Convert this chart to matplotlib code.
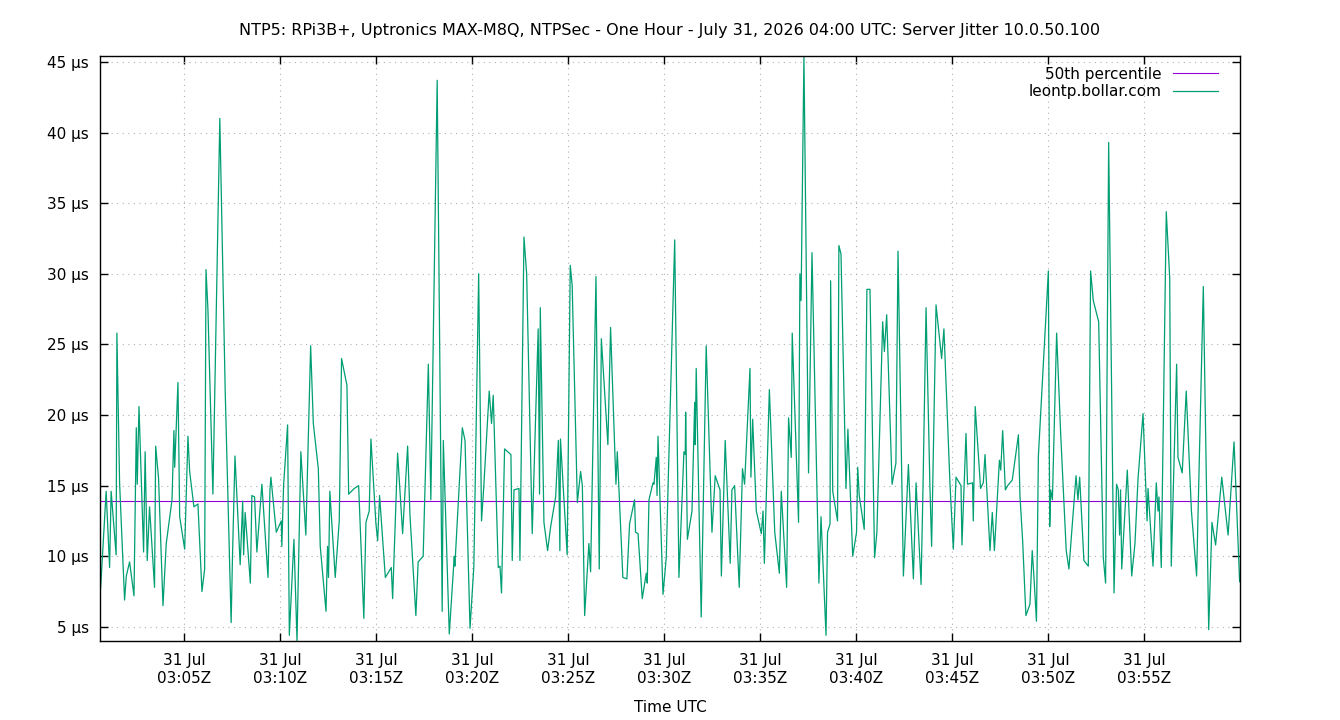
import matplotlib.pyplot as plt

# minutes after 03:00 UTC and server jitter (µs)
minutes = [
    0.66, 0.95, 1.13, 1.21, 1.47, 1.51, 1.65, 1.91, 2.00, 2.17, 2.40, 2.52, 2.57, 2.66,
    2.90, 2.98, 3.09, 3.21, 3.47, 3.53, 3.68, 3.91, 4.08, 4.38, 4.48, 4.52, 4.69, 4.78,
    5.04, 5.21, 5.30, 5.52, 5.73, 5.94,
    6.08, 6.15, 6.25, 6.51, 6.87, 7.15, 7.46, 7.53, 7.66, 7.93, 8.06, 8.11, 8.19, 8.46,
    8.54, 8.68, 8.80, 9.06, 9.38, 9.48, 9.53, 9.81, 10.07, 10.10, 10.19, 10.40, 10.49,
    10.73, 10.89, 11.09, 11.35,
    11.60, 11.74, 12.00, 12.10, 12.40, 12.48, 12.53, 12.60, 12.88, 13.09, 13.21, 13.49,
    13.58, 13.87, 14.10, 14.37, 14.48, 14.65, 14.74, 15.00, 15.09, 15.19, 15.49, 15.80,
    15.87, 16.13, 16.39, 16.65, 16.77,
    17.08, 17.20, 17.46, 17.73, 17.86, 18.19, 18.45, 18.51, 18.82, 19.08, 19.11, 19.50,
    19.64, 19.90, 20.10, 20.35, 20.50, 20.62, 20.90, 21.02, 21.11, 21.37, 21.46, 21.54,
    21.70, 22.03, 22.10, 22.19,
    22.45, 22.50, 22.71, 22.85, 23.14, 23.45, 23.52, 23.56, 23.75, 23.94, 24.10, 24.36,
    24.50, 24.58, 24.61, 24.96, 25.12, 25.22, 25.49, 25.66, 25.75, 25.87, 26.09, 26.18,
    26.46, 26.63, 26.74, 27.08, 27.22, 27.50, 27.57,
    27.86, 28.07, 28.21, 28.47, 28.52, 28.65, 28.87, 29.08, 29.13, 29.22, 29.43, 29.48,
    29.60, 29.64, 29.69, 29.95, 30.12, 30.21, 30.56, 30.78, 31.04, 31.11, 31.13, 31.22,
    31.46, 31.60, 31.63, 31.68, 31.94, 32.20, 32.50, 32.67, 32.92, 32.99,
    33.19, 33.45, 33.54, 33.68, 33.92, 34.09, 34.20, 34.48, 34.53, 34.62, 34.81, 35.07,
    35.16, 35.23, 35.49, 35.77, 36.01, 36.11, 36.39, 36.49, 36.63, 36.68, 37.01, 37.08,
    37.14, 37.29, 37.53, 37.71, 38.07, 38.18, 38.44,
    38.52, 38.65, 38.68, 38.79, 39.04, 39.11, 39.22, 39.48, 39.58, 39.83, 40.03, 40.09,
    40.17, 40.43, 40.57, 40.73, 40.97, 41.09, 41.39, 41.48, 41.60, 41.88, 42.08, 42.19,
    42.47, 42.73, 42.99, 43.13, 43.39, 43.49, 43.65, 43.85,
    43.94, 44.17, 44.46, 44.58, 44.90, 45.07, 45.21, 45.47, 45.52, 45.73, 45.81, 46.07,
    46.11, 46.21, 46.49, 46.63, 46.72, 46.98, 47.10, 47.21, 47.47, 47.54, 47.64, 47.78,
    47.90, 48.14, 48.46, 48.54, 48.68, 48.85, 49.06, 49.18, 49.27,
    49.40, 49.50, 50.02, 50.09, 50.14, 50.23, 50.45, 50.66, 50.95, 51.09, 51.46, 51.56,
    51.65, 51.87, 52.10, 52.22, 52.36, 52.64, 52.88, 53.00, 53.16, 53.44, 53.57, 53.66,
    53.73, 53.78, 53.84, 54.13, 54.36, 54.53, 54.69,
    54.95, 55.16, 55.21, 55.47, 55.64, 55.73, 55.78, 55.90, 56.16, 56.34, 56.42, 56.70,
    56.77, 56.99, 57.20, 57.47, 57.74, 58.09, 58.37, 58.54, 58.73, 59.05, 59.38, 59.69,
    59.98,
]
jitter_us = [
    7.7, 14.6, 9.2, 14.6, 10.1, 25.8, 15.2, 6.9, 8.6, 9.6, 7.2, 19.1, 15.1, 20.6,
    10.3, 17.4, 9.7, 13.5, 7.8, 17.8, 15.5, 6.5, 10.9, 14.0, 18.9, 16.3, 22.3, 12.8,
    10.5, 18.5, 16.0, 13.5, 13.7, 7.5,
    9.1, 30.3, 27.5, 14.4, 41.0, 21.7, 5.3, 10.0, 17.1, 9.4, 13.9, 10.1, 13.1, 8.1,
    14.3, 14.2, 10.3, 15.1, 8.5, 14.7, 15.6, 11.7, 12.5, 10.7, 15.0, 19.3, 4.4,
    11.2, 4.0, 17.4, 11.5,
    24.9, 19.4, 16.2, 10.7, 6.1, 10.7, 8.5, 14.6, 8.5, 12.5, 24.0, 22.1,
    14.4, 14.8, 15.0, 5.6, 12.4, 13.2, 18.3, 12.3, 11.1, 14.3, 8.5, 9.2,
    7.0, 17.3, 11.6, 17.8, 13.0,
    5.8, 9.6, 10.0, 23.6, 14.0, 43.7, 6.1, 18.2, 4.5, 10.0, 9.3, 19.1,
    18.2, 4.9, 9.3, 30.0, 12.5, 15.0, 21.7, 19.4, 21.4, 9.2, 9.3, 7.4,
    17.6, 17.2, 9.7, 14.7,
    14.8, 9.7, 32.6, 30.0, 11.6, 26.1, 14.4, 27.6, 12.4, 10.4, 12.1, 14.2,
    18.2, 10.4, 18.3, 10.1, 30.6, 29.2, 13.8, 16.0, 15.0, 5.8, 10.9, 8.9,
    29.8, 9.1, 25.4, 17.9, 26.2, 15.1, 17.4,
    8.5, 8.4, 12.3, 14.0, 11.7, 11.6, 7.0, 8.8, 8.1, 14.0, 15.2, 15.1,
    17.0, 14.3, 18.5, 7.3, 9.9, 14.7, 32.4, 8.5, 17.4, 17.2, 20.2, 11.2,
    13.2, 20.9, 17.9, 23.3, 5.7, 24.9, 11.7, 15.7, 14.7, 8.6,
    18.2, 9.5, 14.7, 15.0, 7.8, 16.2, 15.1, 23.3, 15.6, 19.7, 13.2, 11.6,
    13.2, 9.5, 21.8, 11.7, 8.8, 14.6, 7.8, 19.8, 17.0, 25.8, 12.4, 30.0,
    28.1, 45.4, 15.9, 31.5, 8.1, 12.8, 4.4,
    11.7, 12.3, 29.5, 14.6, 12.5, 32.0, 31.4, 14.8, 19.0, 10.0, 11.7, 16.3,
    14.3, 11.9, 28.9, 28.9, 9.9, 11.7, 26.6, 24.5, 27.1, 15.1, 16.6, 31.6,
    8.6, 16.5, 8.4, 15.2, 8.0, 14.8, 27.6, 15.0,
    10.7, 27.8, 24.0, 26.1, 15.0, 10.5, 15.6, 15.0, 10.8, 18.7, 15.1, 15.2,
    12.5, 20.6, 14.8, 15.2, 17.2, 10.4, 13.1, 10.4, 16.8, 16.1, 18.9, 14.7,
    15.0, 15.4, 18.6, 14.3, 11.1, 5.8, 6.6, 10.4, 8.5,
    5.4, 17.1, 30.2, 12.1, 14.7, 14.0, 25.8, 18.7, 10.4, 9.1, 15.7, 14.0,
    15.6, 9.7, 9.3, 30.2, 28.1, 26.6, 9.9, 8.1, 39.3, 7.4, 15.1, 14.7,
    11.5, 14.7, 9.1, 16.1, 8.6, 10.9, 15.5,
    20.1, 12.5, 14.8, 9.3, 15.2, 13.2, 14.2, 9.2, 34.4, 29.7, 9.3, 23.6,
    17.0, 15.9, 21.7, 13.2, 8.6, 29.1, 4.8, 12.4, 10.8, 15.6, 11.5, 18.1,
    8.2,
]
p50_us = 13.9

tick_minutes = [5, 10, 15, 20, 25, 30, 35, 40, 45, 50, 55]
tick_labels = [f'31 Jul\n03:{m:02d}Z' for m in tick_minutes]
y_ticks = [5, 10, 15, 20, 25, 30, 35, 40, 45]

plt.rcParams['font.family'] = ['DejaVu Sans']
plt.rcParams['font.size'] = 11

fig = plt.figure(figsize=(13.4, 7.2), dpi=100)
ax = fig.add_axes([100 / 1340, 1 - 641 / 720, 1140 / 1340, 585 / 720])

ax.axhline(p50_us, color='#9400d3', lw=0.8, label='50th percentile')
ax.plot(minutes, jitter_us, color='#009e73', lw=0.9, label='leontp.bollar.com')

ax.set_xlim(0.63, 60.0)
ax.set_ylim(4.0, 45.42)
ax.set_xticks(tick_minutes)
ax.set_xticklabels(tick_labels)
ax.set_yticks(y_ticks)
ax.set_yticklabels([f'{v} µs' for v in y_ticks])

ax.tick_params(direction='in', top=True, right=True, length=6, width=1)
ax.tick_params(axis='y', pad=8)
ax.tick_params(axis='x', pad=9)
ax.grid(True, color='#b0b0b0', linestyle=(0, (1, 4)), linewidth=0.8)
for s in ax.spines.values():
    s.set_linewidth(1)

ax.set_xlabel('Time UTC', labelpad=10)
ax.set_title('NTP5: RPi3B+, Uptronics MAX-M8Q, NTPSec - One Hour - July 31, 2026 04:00 UTC: '
             'Server Jitter 10.0.50.100', fontsize=11.5, pad=15)

ax.legend(loc='upper right', frameon=False, markerfirst=False, handlelength=3.0,
          handletextpad=0.7, borderaxespad=0.3, labelspacing=0.15,
          bbox_to_anchor=(0.9905, 1.0))

fig.savefig('out.png', dpi=100)
